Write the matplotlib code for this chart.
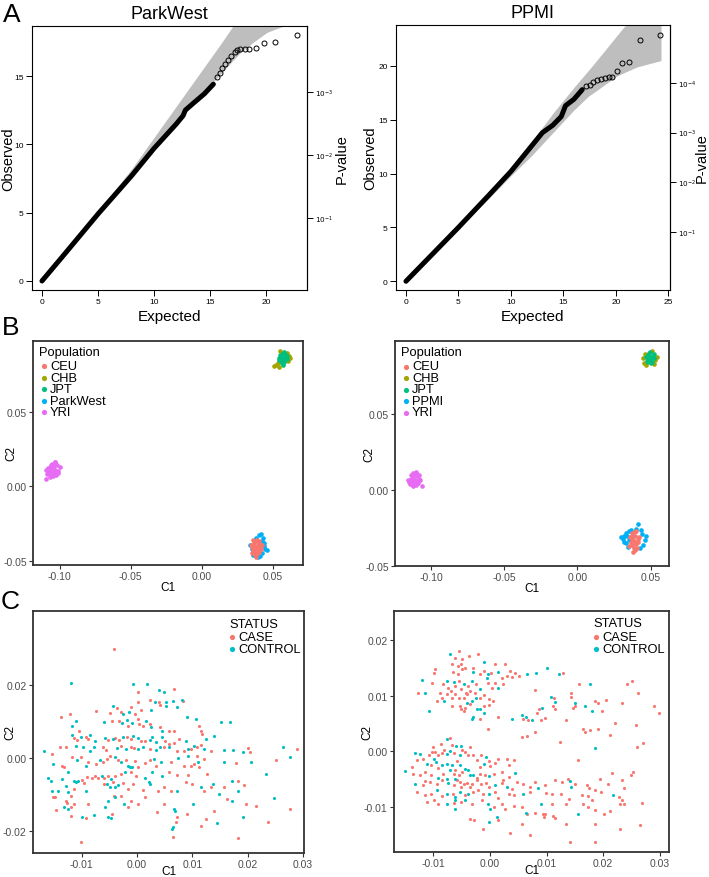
import matplotlib
matplotlib.use("Agg")
import matplotlib.pyplot as plt
import numpy as np

plt.rcParams['font.family'] = ['Liberation Sans', 'DejaVu Sans']

# ---------------- A: QQ plots ----------------
# dense part of each QQ curve (expected, observed)
qq_pw_exp = [0, 2, 5, 8, 10, 11, 12, 12.6, 12.8, 13.5, 14.5, 15.3]
qq_pw_obs = [0, 1.95, 4.9, 7.7, 9.7, 10.6, 11.5, 12.1, 12.5, 13.0, 13.7, 14.4]
# sparse tail drawn as open circles
tail_pw_exp = [15.6, 15.9, 16.1, 16.3, 16.6, 16.9, 17.2, 17.4, 17.7, 18.1, 18.5, 19.1, 19.85, 20.8, 22.74]
tail_pw_obs = [14.92, 15.24, 15.6, 15.9, 16.14, 16.5, 16.75, 16.87, 16.95, 17.0, 17.0, 17.05, 17.41, 17.49, 18.02]
# confidence band
band_pw_x = [0, 4, 8, 10, 12, 14, 16, 17, 17.7, 18.9, 20.1, 21.7]
band_pw_lo = [0, 3.95, 7.8, 9.7, 11.6, 13.4, 15.2, 16.1, 16.7, 17.5, 18.2, 18.7]
band_pw_hi = [0, 4.05, 8.2, 10.5, 12.8, 15.1, 17.4, 18.6, 19.5, 20.8, 22.0, 23.5]

qq_pp_exp = [0, 2, 5, 8, 10, 11, 12, 13, 14, 14.8, 15.2, 16, 16.8]
qq_pp_obs = [0, 2.0, 5.0, 8.1, 10.2, 11.4, 12.6, 13.8, 14.5, 15.3, 16.3, 16.9, 17.8]
tail_pp_exp = [17.2, 17.52, 17.83, 18.21, 18.63, 18.94, 19.33, 19.64, 20.11, 20.59, 21.26, 22.27, 24.24]
tail_pp_obs = [18.1, 18.23, 18.48, 18.69, 18.78, 18.88, 18.94, 19.0, 19.56, 20.24, 20.39, 22.44, 22.87]
band_pp_x = [0, 4, 8, 10, 12, 14, 16, 17.4, 18, 20, 20.5, 22, 24.3]
band_pp_lo = [0, 3.95, 7.8, 9.8, 11.7, 13.8, 15.9, 17.2, 17.6, 19.0, 19.25, 19.9, 20.5]
band_pp_hi = [0, 4.05, 8.2, 10.3, 13.0, 15.6, 18.0, 19.6, 20.3, 22.7, 23.3, 25.0, 27.0]

pval_ticks_pw = [1e-1, 1e-2, 1e-3]
pval_ticks_pp = [1e-1, 1e-2, 1e-3, 1e-4]

# ---------------- B: MDS with HapMap populations ----------------
pops_pw = ['CEU', 'CHB', 'JPT', 'ParkWest', 'YRI']
pops_pp = ['CEU', 'CHB', 'JPT', 'PPMI', 'YRI']
pop_colors = ['#F8766D', '#A3A500', '#00BF7D', '#00B0F6', '#E76BF3']

yri_pw = [(-0.1060, 0.0100), (-0.1050, 0.0120), (-0.1040, 0.0090), (-0.1070, 0.0130), (-0.1030, 0.0110),
          (-0.1080, 0.0095), (-0.1055, 0.0150), (-0.1045, 0.0065), (-0.1020, 0.0140), (-0.1010, 0.0100),
          (-0.1085, 0.0120), (-0.1065, 0.0075), (-0.1035, 0.0160), (-0.1000, 0.0125), (-0.1090, 0.0080),
          (-0.1100, 0.0048), (-0.1025, 0.0075), (-0.1060, 0.0140), (-0.1075, 0.0110), (-0.1040, 0.0135),
          (-0.1050, 0.0085), (-0.1015, 0.0088), (-0.1095, 0.0105), (-0.1030, 0.0165), (-0.1070, 0.0060)]
chb_pw = [(0.0510, 0.0805), (0.0520, 0.0815), (0.0615, 0.0870), (0.0620, 0.0860), (0.0600, 0.0895),
          (0.0535, 0.0825), (0.0550, 0.0905), (0.0540, 0.0800), (0.0605, 0.0840)]
jpt_pw = [(0.0570, 0.0855), (0.0560, 0.0870), (0.0580, 0.0840), (0.0555, 0.0840), (0.0590, 0.0865),
          (0.0565, 0.0885), (0.0545, 0.0860), (0.0585, 0.0885), (0.0575, 0.0830), (0.0595, 0.0850),
          (0.0550, 0.0880), (0.0600, 0.0875), (0.0560, 0.0825), (0.0540, 0.0845), (0.0580, 0.0900),
          (0.0570, 0.0815)]
study_pw = [(0.0440, -0.0400), (0.0445, -0.0420), (0.0430, -0.0350), (0.0415, -0.0320), (0.0400, -0.0330),
            (0.0425, -0.0450), (0.0440, -0.0380), (0.0360, -0.0460), (0.0410, -0.0470), (0.0350, -0.0420),
            (0.0380, -0.0345), (0.0455, -0.0430), (0.0395, -0.0475), (0.0420, -0.0365), (0.0340, -0.0395)]
ceu_pw = [(0.0380, -0.0410), (0.0370, -0.0400), (0.0390, -0.0420), (0.0360, -0.0430), (0.0400, -0.0390),
          (0.0375, -0.0440), (0.0395, -0.0450), (0.0365, -0.0380), (0.0385, -0.0370), (0.0410, -0.0410),
          (0.0350, -0.0410), (0.0405, -0.0440), (0.0355, -0.0450), (0.0370, -0.0465), (0.0390, -0.0360),
          (0.0415, -0.0425), (0.0345, -0.0395), (0.0380, -0.0475), (0.0400, -0.0365), (0.0360, -0.0360),
          (0.0420, -0.0395), (0.0385, -0.0435), (0.0365, -0.0415), (0.0395, -0.0400)]

yri_pp = [(-0.1110, 0.0070), (-0.1120, 0.0085), (-0.1100, 0.0060), (-0.1130, 0.0060), (-0.1095, 0.0090),
          (-0.1140, 0.0075), (-0.1115, 0.0105), (-0.1085, 0.0075), (-0.1125, 0.0040), (-0.1105, 0.0110),
          (-0.1150, 0.0055), (-0.1090, 0.0045), (-0.1135, 0.0100), (-0.1075, 0.0065), (-0.1160, 0.0070),
          (-0.1120, 0.0025), (-0.1060, 0.0030), (-0.1100, 0.0120), (-0.1145, 0.0040), (-0.1080, 0.0100),
          (-0.1125, 0.0115), (-0.1105, 0.0035)]
chb_pp = [(0.0455, 0.0840), (0.0460, 0.0900), (0.0530, 0.0860), (0.0540, 0.0880), (0.0520, 0.0830),
          (0.0470, 0.0825), (0.0450, 0.0870), (0.0510, 0.0915)]
jpt_pp = [(0.0495, 0.0875), (0.0485, 0.0890), (0.0505, 0.0860), (0.0480, 0.0860), (0.0515, 0.0885),
          (0.0490, 0.0905), (0.0470, 0.0880), (0.0510, 0.0845), (0.0500, 0.0835), (0.0525, 0.0870),
          (0.0475, 0.0850), (0.0495, 0.0910), (0.0520, 0.0900), (0.0485, 0.0845)]
study_pp = [(0.0320, -0.0300), (0.0310, -0.0325), (0.0330, -0.0280), (0.0350, -0.0270), (0.0400, -0.0255),
            (0.0410, -0.0225), (0.0440, -0.0290), (0.0460, -0.0330), (0.0450, -0.0360), (0.0330, -0.0350),
            (0.0345, -0.0375), (0.0425, -0.0380), (0.0300, -0.0310), (0.0365, -0.0260), (0.0435, -0.0265),
            (0.0465, -0.0300), (0.0315, -0.0345), (0.0355, -0.0330), (0.0340, -0.0300)]
ceu_pp = [(0.0380, -0.0330), (0.0370, -0.0320), (0.0390, -0.0340), (0.0375, -0.0360), (0.0395, -0.0300),
          (0.0385, -0.0380), (0.0365, -0.0345), (0.0400, -0.0355), (0.0410, -0.0320), (0.0360, -0.0310),
          (0.0390, -0.0395), (0.0380, -0.0410), (0.0405, -0.0380), (0.0370, -0.0285), (0.0415, -0.0345),
          (0.0385, -0.0275), (0.0355, -0.0370), (0.0420, -0.0310), (0.0375, -0.0300), (0.0400, -0.0270)]

# ---------------- C: MDS of cases and controls ----------------
status_labels = ['CASE', 'CONTROL']
status_colors = ['#F8766D', '#00BFC4']

case_pw = [
    (-0.0042, 0.0301), (0.0067, 0.0189), (0.0002, 0.0183), (0.0023, 0.0161), (0.0040, 0.0155), (0.0001, 0.0155),
    (0.0083, 0.0156), (0.0042, 0.0146), (-0.0037, 0.0138), (-0.0074, 0.0129), (-0.0011, 0.0140), (0.0008, 0.0131),
    (-0.0049, 0.0123), (-0.0028, 0.0126), (-0.0004, 0.0121), (-0.0137, 0.0112), (-0.0121, 0.0120), (-0.0046, 0.0103),
    (-0.0032, 0.0103), (-0.0017, 0.0089), (0.0003, 0.0094), (0.0001, 0.0108), (0.0010, 0.0089), (0.0024, 0.0094),
    (0.0042, 0.0085), (0.0058, 0.0075), (0.0067, 0.0075), (0.0112, 0.0089), (0.0116, 0.0075), (0.0118, 0.0066),
    (-0.0113, 0.0055), (-0.0108, 0.0050), (-0.0105, 0.0075), (-0.0092, 0.0059), (-0.0089, 0.0052), (-0.0052, 0.0050),
    (-0.0039, 0.0054), (-0.0032, 0.0050), (-0.0018, 0.0057), (-0.0011, 0.0052), (0.0008, 0.0048), (0.0015, 0.0048),
    (0.0051, 0.0048), (0.0058, 0.0039), (0.0067, 0.0041), (0.0076, 0.0052), (0.0115, 0.0035), (0.0133, 0.0020),
    (-0.0153, 0.0011), (-0.0139, 0.0031), (-0.0129, 0.0029), (-0.0062, 0.0029), (-0.0056, 0.0022), (-0.0028, 0.0032),
    (-0.0010, 0.0029), (-0.0006, 0.0027), (0.0023, 0.0025), (0.0048, 0.0029), (0.0073, 0.0018), (0.0085, 0.0020),
    (0.0097, 0.0025), (0.0108, 0.0029), (0.0109, 0.0005), (0.0121, -0.0003), (0.0200, 0.0028), (0.0204, 0.0016),
    (0.0179, -0.0015), (-0.0135, -0.0021), (-0.0132, -0.0026), (-0.0117, 0.0002), (-0.0102, 0.0002), (-0.0088, -0.0012),
    (-0.0074, -0.0017), (-0.0061, -0.0012), (-0.0055, -0.0003), (-0.0049, 0.0004), (-0.0035, -0.0007), (-0.0019, -0.0007),
    (-0.0004, -0.0009), (0.0002, -0.0026), (0.0014, -0.0015), (0.0023, -0.0007), (0.0035, -0.0021), (0.0061, -0.0012),
    (0.0085, -0.0021), (0.0098, -0.0021), (0.0103, -0.0017), (0.0112, -0.0026), (0.0126, -0.0044), (0.0133, -0.0081),
    (0.0157, -0.0081), (0.0183, -0.0063), (0.0194, -0.0074), (0.0251, -0.0007), (0.0289, 0.0025), (-0.0099, -0.0061),
    (-0.0095, -0.0069), (-0.0090, -0.0053), (-0.0082, -0.0055), (-0.0076, -0.0049), (-0.0071, -0.0056), (-0.0059, -0.0055),
    (-0.0053, -0.0051), (-0.0040, -0.0049), (-0.0028, -0.0044), (-0.0010, -0.0040), (-0.0001, -0.0049), (0.0058, -0.0040),
    (0.0073, -0.0047), (0.0093, -0.0047), (-0.0151, -0.0109), (-0.0148, -0.0107), (-0.0113, -0.0086), (-0.0120, -0.0104),
    (-0.0059, -0.0072), (-0.0043, -0.0067), (-0.0025, -0.0070), (-0.0017, -0.0086), (-0.0007, -0.0072), (0.0010, -0.0087),
    (0.0038, -0.0090), (0.0049, -0.0081), (0.0061, -0.0090), (0.0089, -0.0067), (0.0099, -0.0072), (0.0121, -0.0090),
    (-0.0147, -0.0143), (-0.0129, -0.0118), (-0.0126, -0.0125), (-0.0119, -0.0134), (-0.0120, -0.0159), (-0.0113, -0.0127),
    (-0.0092, -0.0166), (-0.0088, -0.0127), (-0.0045, -0.0154), (-0.0041, -0.0104), (-0.0028, -0.0106), (-0.0016, -0.0136),
    (-0.0011, -0.0118), (0.0002, -0.0127), (0.0014, -0.0109), (0.0036, -0.0148), (0.0049, -0.0127), (0.0071, -0.0177),
    (0.0065, -0.0219), (0.0073, -0.0164), (0.0090, -0.0154), (0.0115, -0.0187), (0.0124, -0.0168), (0.0140, -0.0147),
    (0.0163, -0.0113), (0.0182, -0.0222), (0.0198, -0.0127), (0.0216, -0.0132), (0.0237, -0.0177), (0.0277, -0.0142),
    (-0.0102, -0.0233)]
ctrl_pw = [
    (-0.0119, 0.0206), (-0.0007, 0.0204), (0.0018, 0.0205), (0.0039, 0.0186), (0.0048, 0.0183), (0.0065, 0.0158),
    (0.0082, 0.0160), (0.0052, 0.0154), (0.0033, 0.0154), (0.0052, 0.0144), (0.0073, 0.0140), (-0.0043, 0.0142),
    (0.0026, 0.0132), (-0.0014, 0.0128), (-0.0025, 0.0121), (-0.0110, 0.0103), (-0.0059, 0.0100), (-0.0018, 0.0105),
    (-0.0027, 0.0096), (-0.0009, 0.0096), (0.0017, 0.0103), (0.0025, 0.0085), (0.0045, 0.0075), (0.0090, 0.0112),
    (0.0107, 0.0106), (0.0124, 0.0051), (0.0139, 0.0060), (0.0152, 0.0100), (0.0169, 0.0098), (-0.0118, 0.0089),
    (-0.0118, 0.0063), (-0.0102, 0.0057), (-0.0085, 0.0062), (-0.0076, 0.0048), (-0.0058, 0.0055), (-0.0043, 0.0052),
    (-0.0025, 0.0059), (-0.0007, 0.0060), (0.0002, 0.0055), (0.0023, 0.0050), (0.0027, 0.0059), (0.0035, 0.0043),
    (0.0046, 0.0057), (0.0042, 0.0031), (0.0088, 0.0046), (0.0092, 0.0025), (0.0103, 0.0034), (0.0121, 0.0025),
    (-0.0168, 0.0020), (-0.0111, 0.0034), (-0.0097, 0.0029), (-0.0085, 0.0020), (-0.0077, 0.0029), (-0.0037, 0.0028),
    (-0.0019, 0.0025), (0.0001, 0.0025), (0.0010, 0.0031), (0.0035, 0.0022), (0.0058, 0.0029), (0.0092, 0.0006),
    (0.0157, 0.0023), (0.0174, 0.0023), (0.0191, 0.0017), (0.0207, -0.0012), (0.0157, -0.0010), (-0.0151, -0.0017),
    (-0.0108, -0.0007), (-0.0092, -0.0021), (-0.0067, -0.0007), (-0.0040, 0.0002), (-0.0028, -0.0010), (-0.0017, -0.0021),
    (-0.0013, -0.0026), (-0.0009, -0.0024), (0.0030, -0.0003), (0.0043, -0.0012), (0.0075, -0.0001), (0.0111, -0.0012),
    (0.0138, -0.0072), (0.0148, -0.0099), (0.0171, -0.0063), (0.0182, -0.0090), (0.0233, -0.0044), (0.0277, 0.0002),
    (0.0264, 0.0029), (-0.0160, -0.0055), (-0.0156, -0.0064), (-0.0135, -0.0058), (-0.0125, -0.0040), (-0.0114, -0.0064),
    (-0.0107, -0.0063), (-0.0064, -0.0049), (-0.0047, -0.0058), (-0.0022, -0.0040), (0.0014, -0.0055), (0.0027, -0.0040),
    (0.0045, -0.0049), (-0.0153, -0.0090), (-0.0142, -0.0092), (-0.0129, -0.0076), (-0.0124, -0.0095), (-0.0110, -0.0067),
    (-0.0092, -0.0092), (-0.0055, -0.0072), (-0.0048, -0.0081), (-0.0040, -0.0081), (-0.0035, -0.0075), (0.0021, -0.0067),
    (0.0023, -0.0072), (0.0072, -0.0090), (0.0115, -0.0081), (-0.0132, -0.0136), (-0.0124, -0.0141), (-0.0099, -0.0162),
    (-0.0077, -0.0156), (-0.0052, -0.0118), (-0.0057, -0.0136), (-0.0052, -0.0162), (-0.0047, -0.0166), (-0.0039, -0.0109),
    (-0.0024, -0.0127), (0.0067, -0.0141), (0.0068, -0.0147), (0.0064, -0.0196), (0.0065, -0.0191), (0.0102, -0.0127),
    (0.0145, -0.0180), (0.0171, -0.0118), (0.0192, -0.0164), (0.0248, -0.0111)]

case_pp = [
    (-0.0055, 0.0181), (-0.0061, 0.0169), (-0.0049, 0.0166), (-0.0036, 0.0172), (-0.0020, 0.0175), (-0.0066, 0.0157),
    (-0.0057, 0.0154), (-0.0051, 0.0158), (-0.0044, 0.0151), (-0.0065, 0.0143), (-0.0057, 0.0139), (-0.0049, 0.0148),
    (-0.0030, 0.0150), (-0.0011, 0.0145), (0.0002, 0.0142), (0.0009, 0.0157), (0.0027, 0.0158), (0.0035, 0.0145),
    (0.0045, 0.0142), (0.0052, 0.0136), (-0.0096, 0.0149), (-0.0098, 0.0141), (-0.0126, 0.0106), (-0.0102, 0.0124),
    (-0.0094, 0.0091), (-0.0082, 0.0121), (-0.0073, 0.0115), (-0.0061, 0.0118), (-0.0055, 0.0127), (-0.0051, 0.0112),
    (-0.0042, 0.0106), (-0.0038, 0.0118), (-0.0025, 0.0121), (-0.0017, 0.0139), (-0.0004, 0.0123), (0.0004, 0.0115),
    (0.0009, 0.0124), (0.0021, 0.0132), (0.0024, 0.0121), (0.0030, 0.0136), (0.0039, 0.0134), (-0.0088, 0.0106),
    (-0.0076, 0.0103), (-0.0084, 0.0096), (-0.0069, 0.0109), (-0.0067, 0.0096), (-0.0061, 0.0103), (-0.0055, 0.0096),
    (-0.0052, 0.0082), (-0.0045, 0.0097), (-0.0041, 0.0103), (-0.0035, 0.0109), (-0.0027, 0.0106), (-0.0017, 0.0097),
    (-0.0011, 0.0102), (-0.0002, 0.0094), (0.0005, 0.0091), (-0.0067, 0.0082), (-0.0051, 0.0076), (-0.0046, 0.0073),
    (-0.0044, 0.0079), (-0.0035, 0.0085), (-0.0011, 0.0082), (-0.0002, 0.0084), (-0.0018, 0.0059), (-0.0004, 0.0041),
    (0.0015, 0.0062), (0.0059, 0.0059), (0.0068, 0.0057), (0.0083, 0.0070), (0.0086, 0.0076), (0.0091, 0.0057),
    (0.0098, 0.0060), (0.0111, 0.0082), (0.0115, 0.0076), (0.0080, 0.0111), (0.0129, 0.0142), (0.0114, 0.0097),
    (0.0143, 0.0105), (0.0144, 0.0099), (0.0151, 0.0082), (0.0158, 0.0121), (0.0186, 0.0091), (0.0191, 0.0088),
    (0.0146, 0.0079), (0.0134, 0.0056), (0.0198, 0.0073), (0.0205, 0.0093), (0.0165, 0.0041), (0.0168, 0.0035),
    (0.0177, 0.0039), (0.0191, 0.0041), (0.0212, 0.0030), (0.0221, 0.0051), (0.0242, 0.0121), (0.0251, 0.0127),
    (0.0261, 0.0106), (0.0233, 0.0087), (0.0258, 0.0047), (0.0259, 0.0008), (0.0271, 0.0015), (0.0289, 0.0082),
    (0.0299, 0.0069), (0.0056, 0.0026), (0.0065, 0.0027), (0.0080, 0.0035), (0.0124, 0.0017), (0.0156, -0.0016),
    (-0.0070, 0.0024), (-0.0086, 0.0014), (-0.0067, 0.0011), (-0.0080, 0.0003), (-0.0064, -0.0002), (-0.0049, 0.0002),
    (-0.0044, -0.0001), (-0.0035, 0.0008), (-0.0101, 0.0008), (-0.0102, -0.0001), (-0.0096, -0.0001), (-0.0091, -0.0007),
    (-0.0084, -0.0002), (-0.0108, -0.0007), (-0.0117, -0.0013), (-0.0129, -0.0016), (-0.0104, -0.0025), (-0.0091, -0.0030),
    (-0.0062, -0.0034), (-0.0058, -0.0017), (-0.0039, -0.0007), (-0.0029, -0.0007), (-0.0023, -0.0016), (-0.0015, -0.0007),
    (-0.0002, -0.0017), (-0.0017, -0.0028), (0.0001, -0.0027), (0.0009, -0.0021), (0.0015, -0.0013), (0.0030, -0.0013),
    (0.0042, -0.0016), (0.0033, -0.0025), (-0.0138, -0.0028), (-0.0135, -0.0040), (-0.0123, -0.0043), (-0.0114, -0.0037),
    (-0.0104, -0.0043), (-0.0082, -0.0040), (-0.0064, -0.0040), (-0.0055, -0.0043), (-0.0049, -0.0037), (-0.0023, -0.0047),
    (-0.0017, -0.0040), (-0.0008, -0.0043), (0.0008, -0.0040), (0.0021, -0.0037), (0.0024, -0.0051), (0.0033, -0.0046),
    (-0.0117, -0.0061), (-0.0115, -0.0053), (-0.0105, -0.0055), (-0.0094, -0.0058), (-0.0085, -0.0052), (-0.0064, -0.0061),
    (-0.0058, -0.0052), (-0.0052, -0.0055), (-0.0051, -0.0064), (-0.0046, -0.0059), (-0.0041, -0.0057), (-0.0035, -0.0064),
    (-0.0031, -0.0058), (-0.0023, -0.0052), (-0.0015, -0.0058), (-0.0007, -0.0057), (-0.0002, -0.0064), (0.0021, -0.0057),
    (0.0039, -0.0067), (0.0048, -0.0055), (0.0059, -0.0058), (0.0071, -0.0064), (0.0080, -0.0055), (0.0098, -0.0061),
    (0.0115, -0.0052), (0.0128, -0.0055), (0.0138, -0.0049), (0.0151, -0.0058), (0.0171, -0.0061), (0.0175, -0.0065),
    (0.0195, -0.0049), (0.0208, -0.0058), (0.0215, -0.0039), (0.0233, -0.0052), (0.0236, -0.0066), (0.0249, -0.0042),
    (0.0253, -0.0037), (-0.0129, -0.0073), (-0.0114, -0.0079), (-0.0104, -0.0076), (-0.0084, -0.0081), (-0.0065, -0.0076),
    (-0.0044, -0.0079), (-0.0029, -0.0073), (-0.0020, -0.0070), (-0.0012, -0.0076), (0.0009, -0.0073), (0.0015, -0.0083),
    (0.0033, -0.0076), (0.0042, -0.0079), (0.0071, -0.0073), (0.0099, -0.0075), (0.0109, -0.0076), (0.0126, -0.0076),
    (0.0162, -0.0078), (0.0174, -0.0081), (0.0180, -0.0088), (0.0186, -0.0070), (0.0196, -0.0073), (0.0227, -0.0082),
    (0.0233, -0.0088), (0.0236, -0.0094), (0.0268, -0.0093), (-0.0111, -0.0091), (-0.0099, -0.0088), (-0.0092, -0.0094),
    (-0.0064, -0.0093), (-0.0051, -0.0091), (-0.0032, -0.0094), (-0.0014, -0.0088), (0.0008, -0.0100), (0.0021, -0.0094),
    (0.0027, -0.0103), (0.0042, -0.0099), (0.0056, -0.0100), (0.0065, -0.0112), (0.0080, -0.0111), (0.0098, -0.0113),
    (0.0109, -0.0094), (0.0115, -0.0119), (0.0135, -0.0094), (0.0139, -0.0085), (0.0165, -0.0094), (0.0174, -0.0100),
    (0.0185, -0.0105), (0.0230, -0.0095), (-0.0035, -0.0122), (-0.0028, -0.0124), (-0.0012, -0.0139), (0.0015, -0.0124),
    (0.0036, -0.0146), (0.0056, -0.0131), (0.0071, -0.0151), (0.0094, -0.0113), (0.0096, -0.0118), (0.0112, -0.0116),
    (0.0134, -0.0131), (0.0142, -0.0163), (0.0186, -0.0163), (0.0185, -0.0130), (0.0202, -0.0112), (0.0230, -0.0140),
    (0.0264, -0.0133), (0.0212, -0.0107)]
ctrl_pp = [
    (-0.0071, 0.0176), (-0.0011, 0.0162), (-0.0029, 0.0144), (-0.0004, 0.0139), (0.0014, 0.0144), (-0.0120, 0.0128),
    (-0.0115, 0.0106), (-0.0076, 0.0127), (-0.0064, 0.0126), (-0.0046, 0.0122), (-0.0032, 0.0127), (-0.0017, 0.0112),
    (-0.0005, 0.0133), (0.0015, 0.0115), (-0.0080, 0.0091), (-0.0024, 0.0097), (-0.0108, 0.0073), (-0.0041, 0.0088),
    (-0.0031, 0.0091), (-0.0023, 0.0076), (-0.0018, 0.0076), (-0.0011, 0.0070), (-0.0029, 0.0062), (-0.0031, 0.0059),
    (0.0039, 0.0059), (0.0056, 0.0066), (0.0064, 0.0062), (0.0074, 0.0056), (0.0092, 0.0079), (0.0115, 0.0090),
    (0.0108, 0.0099), (0.0065, 0.0140), (0.0082, 0.0142), (0.0101, 0.0151), (0.0122, 0.0140), (0.0151, 0.0088),
    (0.0177, 0.0121), (0.0167, 0.0082), (0.0181, 0.0073), (0.0186, 0.0007), (-0.0076, 0.0022), (-0.0076, -0.0004),
    (-0.0071, 0.0000), (-0.0059, 0.0009), (-0.0051, 0.0009), (-0.0052, -0.0007), (-0.0098, -0.0013), (-0.0123, -0.0004),
    (-0.0132, -0.0002), (-0.0111, -0.0022), (-0.0095, -0.0019), (-0.0085, -0.0025), (-0.0076, -0.0022), (-0.0067, -0.0025),
    (-0.0052, -0.0025), (-0.0007, -0.0010), (-0.0011, -0.0022), (0.0044, -0.0039), (-0.0149, -0.0035), (-0.0092, -0.0047),
    (-0.0076, -0.0049), (-0.0070, -0.0034), (-0.0061, -0.0049), (-0.0044, -0.0031), (-0.0038, -0.0034), (-0.0035, -0.0043),
    (-0.0029, -0.0043), (-0.0002, -0.0045), (-0.0132, -0.0058), (-0.0073, -0.0057), (0.0009, -0.0061), (0.0030, -0.0064),
    (0.0085, -0.0065), (0.0142, -0.0053), (-0.0094, -0.0070), (-0.0076, -0.0076), (-0.0061, -0.0082), (-0.0052, -0.0073),
    (-0.0038, -0.0076), (-0.0001, -0.0076), (0.0059, -0.0076), (0.0144, -0.0064), (0.0217, -0.0078), (-0.0076, -0.0094),
    (-0.0061, -0.0088), (-0.0044, -0.0088), (-0.0004, -0.0094), (0.0091, -0.0094), (0.0155, -0.0113), (-0.0061, -0.0103),
    (0.0001, -0.0104), (-0.0002, -0.0127), (0.0012, -0.0118), (0.0064, -0.0111)]

W, H = 709, 878


def split(points):
    return [p[0] for p in points], [p[1] for p in points]


def place_labels(ax, xlab, ylab, fs, xlab_y, ylab_x):
    ax.set_xlabel(xlab, fontsize=fs)
    ax.xaxis.set_label_coords(0.5, xlab_y)
    ax.xaxis.label.set_va('center')
    ax.set_ylabel(ylab, fontsize=fs)
    ax.yaxis.set_label_coords(ylab_x, 0.5)
    ax.yaxis.label.set_va('center')


def style_gg(ax, xticks, yticks):
    for s in ax.spines.values():
        s.set_linewidth(1.3)
        s.set_color('#333333')
    ax.set_xticks(xticks)
    ax.set_yticks(yticks)
    ax.set_xticklabels(['%.2f' % t for t in xticks])
    ax.set_yticklabels(['%.2f' % t for t in yticks])
    ax.tick_params(length=3, width=0.8, color='#333333', labelsize=7.5,
                   labelcolor='#4D4D4D', pad=1.5)


def draw_qq(ax, title, q_exp, q_obs, t_exp, t_obs, bx, blo, bhi, xlim, ylim,
            xticks, yticks, pvals, ylab_x, pval_x):
    ax.fill_between(bx, blo, bhi, color='#BEBEBE', lw=0, zorder=1)
    ax.plot(q_exp, q_obs, color='black', lw=3.6, solid_capstyle='round',
            solid_joinstyle='round', zorder=3)
    ax.plot(t_exp, t_obs, 'o', mfc='none', mec='black', ms=3.6, mew=0.7, zorder=3)
    ax.set_xlim(*xlim)
    ax.set_ylim(*ylim)
    ax.set_xticks(xticks)
    ax.set_yticks(yticks)
    ax.tick_params(length=4, width=0.7, labelsize=6, pad=2)
    for s in ax.spines.values():
        s.set_linewidth(0.8)
    ax.set_title(title, fontsize=13, pad=6)
    place_labels(ax, 'Expected', 'Observed', 10.5, -0.098, ylab_x)
    ax.xaxis.label.set_fontsize(11)
    sec = ax.secondary_yaxis('right')
    sec.set_yticks(-2 * np.log(pvals))
    sec.set_yticklabels(['$10^{%d}$' % int(round(np.log10(p))) for p in pvals])
    sec.tick_params(length=4, width=0.7, labelsize=5.2, pad=1.5)
    sec.set_ylabel('P-value', fontsize=10.5)
    sec.yaxis.set_label_coords(pval_x, 0.5, transform=ax.transAxes)
    sec.yaxis.label.set_va('center')


def manual_legend(ax, labels, colors, title, title_px, mark_dx, text_dx, row0, row_step, fs):
    # positions given in pixels from the axes' top-left corner
    bb = ax.get_position()
    wpx, hpx = bb.width * W, bb.height * H
    ax.text(title_px[0] / wpx, 1 - title_px[1] / hpx, title, transform=ax.transAxes,
            ha='left', va='center', fontsize=fs)
    for i, (lab, col) in enumerate(zip(labels, colors)):
        yy = 1 - (row0 + i * row_step) / hpx
        ax.scatter([mark_dx / wpx], [yy], s=14, color=col, lw=0,
                   transform=ax.transAxes, clip_on=False, zorder=4)
        ax.text(text_dx / wpx, yy, lab, transform=ax.transAxes,
                ha='left', va='center', fontsize=fs)


def draw_pop(ax, groups, labels, xlim, ylim, ylab_x):
    # draw order: study samples under CEU, CHB under JPT
    order = [1, 2, 3, 0, 4]
    for i in order:
        x, y = split(groups[i])
        ax.scatter(x, y, s=11, color=pop_colors[i], lw=0, zorder=2)
    ax.set_xlim(*xlim)
    ax.set_ylim(*ylim)
    style_gg(ax, [-0.10, -0.05, 0.00, 0.05], [-0.05, 0.00, 0.05])
    place_labels(ax, 'C1', 'C2', 8.5, -0.098, ylab_x)
    manual_legend(ax, labels, pop_colors, 'Population', (6.5, 11.5), 11, 17, 25.5, 11.5, 9.3)


def draw_status(ax, case, ctrl, xlim, ylim, yticks, ylab_x, leg_dx):
    x, y = split(case)
    ax.scatter(x, y, s=5, color=status_colors[0], lw=0, zorder=2)
    x, y = split(ctrl)
    ax.scatter(x, y, s=5, color=status_colors[1], lw=0, zorder=2)
    ax.set_xlim(*xlim)
    ax.set_ylim(*ylim)
    style_gg(ax, [-0.01, 0.00, 0.01, 0.02, 0.03], yticks)
    place_labels(ax, 'C1', 'C2', 8.5, -0.076, ylab_x)
    manual_legend(ax, status_labels, status_colors, 'STATUS', (leg_dx, 12.5),
                  leg_dx + 2.7, leg_dx + 9, 25.7, 12.6, 9.3)


fig = plt.figure(figsize=(W / 100, H / 100), dpi=100)


def add_ax(x0, y0, x1, y1):
    return fig.add_axes([x0 / W, 1 - y1 / H, (x1 - x0) / W, (y1 - y0) / H])


ax_a1 = add_ax(32, 27, 307, 291)
ax_a2 = add_ax(396, 26, 670, 291)
ax_b1 = add_ax(33, 342, 303, 566)
ax_b2 = add_ax(395, 342, 669, 567)
ax_c1 = add_ax(33, 612, 304, 854)
ax_c2 = add_ax(394, 612, 669, 853)

draw_qq(ax_a1, 'ParkWest', qq_pw_exp, qq_pw_obs, tail_pw_exp, tail_pw_obs,
        band_pw_x, band_pw_lo, band_pw_hi, (-0.89, 23.66), (-0.66, 18.66),
        [0, 5, 10, 15, 20], [0, 5, 10, 15], pval_ticks_pw, -0.0855, 1.127)
draw_qq(ax_a2, 'PPMI', qq_pp_exp, qq_pp_obs, tail_pp_exp, tail_pp_obs,
        band_pp_x, band_pp_lo, band_pp_hi, (-0.95, 25.16), (-0.81, 23.8),
        [0, 5, 10, 15, 20, 25], [0, 5, 10, 15, 20], pval_ticks_pp, -0.095, 1.115)

draw_pop(ax_b1, [ceu_pw, chb_pw, jpt_pw, study_pw, yri_pw], pops_pw,
         (-0.1188, 0.0711), (-0.0529, 0.0973), -0.081)
draw_pop(ax_b2, [ceu_pp, chb_pp, jpt_pp, study_pp, yri_pp], pops_pp,
         (-0.1246, 0.0625), (-0.0466, 0.0983), -0.095)

draw_status(ax_c1, case_pw, ctrl_pw, (-0.0188, 0.0302), (-0.0262, 0.0405),
            [-0.02, 0.00, 0.02], -0.085, 196)
draw_status(ax_c2, case_pp, ctrl_pp, (-0.0169, 0.0316), (-0.0181, 0.0253),
            [-0.01, 0.00, 0.01, 0.02], -0.098, 199.3)

fig.text(3 / W, 1 - 3 / H, 'A', fontsize=19, va='top', ha='left')
fig.text(2 / W, 1 - 316 / H, 'B', fontsize=19, va='top', ha='left')
fig.text(1 / W, 1 - 590 / H, 'C', fontsize=19, va='top', ha='left')

fig.savefig('out.png', dpi=100)
